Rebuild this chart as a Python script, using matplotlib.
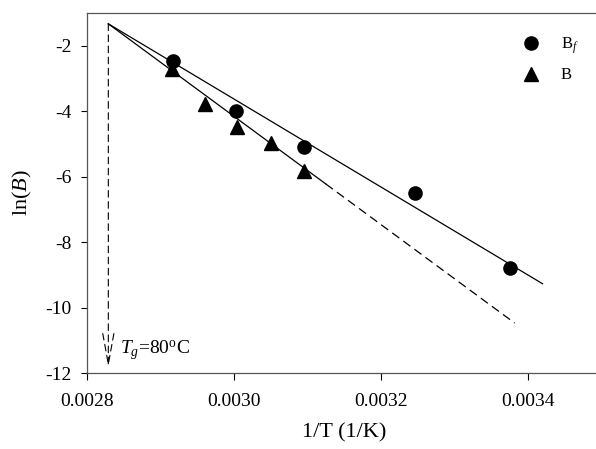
import numpy as np
import matplotlib
matplotlib.use("Agg")
import matplotlib.pyplot as plt

plt.rcParams['font.family'] = ['Liberation Serif', 'DejaVu Serif']
plt.rcParams['mathtext.fontset'] = 'custom'
plt.rcParams['mathtext.rm'] = 'Liberation Serif'
plt.rcParams['mathtext.it'] = 'Liberation Serif:italic'
plt.rcParams['axes.unicode_minus'] = False

# measured points
x_bf = [0.002917, 0.003003, 0.003095, 0.003246, 0.003376]
y_bf = [-2.48, -3.98, -5.1, -6.5, -8.78]
x_b = [0.002915, 0.00296, 0.003004, 0.00305, 0.003095]
y_b = [-2.7, -3.78, -4.47, -4.97, -5.82]

# fitted lines (from common Tg point)
x_tg = 0.002829
y_tg = -1.33
x_bf_end = 0.00342
y_bf_end = -9.27
x_b_solid = 0.003125
x_b_end = 0.003382
y_b_end = -10.47
y_arrow = -11.82

fig = plt.figure(figsize=(5.96, 4.49), dpi=100)
ax = fig.add_axes([0.146, 0.169, 0.863, 0.802])

# Bf fit line
ax.plot([x_tg, x_bf_end], [y_tg, y_bf_end], color='black', lw=0.9)
# B fit line: solid part then dashed extrapolation
slope_b = (y_b_end - y_tg) / (x_b_end - x_tg)
y_b_solid = y_tg + slope_b * (x_b_solid - x_tg)
ax.plot([x_tg, x_b_solid], [y_tg, y_b_solid], color='black', lw=0.9)
ax.plot([x_b_solid, x_b_end], [y_b_solid, y_b_end], color='black', lw=0.9,
        dashes=(7, 4))

# vertical dashed arrow to Tg
ax.annotate('', xy=(x_tg, y_arrow), xytext=(x_tg, y_tg),
            arrowprops=dict(arrowstyle='->,head_length=2.2,head_width=0.4',
                            linestyle=(0, (6, 4)), lw=0.8, color='black',
                            shrinkA=0, shrinkB=0))
ax.text(0.002845, -11.3, r'$T_g$=80$^{\rm o}$C', fontsize=14, va='center')

ax.plot(x_bf, y_bf, 'o', color='black', ms=9.5, label=r'B$_f$', zorder=3)
ax.plot(x_b, y_b, '^', color='black', ms=9.5, label='B', zorder=3)

ax.set_xlim(0.0028, 0.0035)
ax.set_ylim(-12, -1)
ax.set_xticks([0.0028, 0.0030, 0.0032, 0.0034])
ax.set_xticklabels(['0.0028', '0.0030', '0.0032', '0.0034'])
ax.set_yticks([-12, -10, -8, -6, -4, -2])
ax.tick_params(labelsize=14, direction='out', width=0.8,
               top=False, right=False)
ax.tick_params(axis='x', length=5, pad=9)
ax.tick_params(axis='y', length=4, pad=7)
for s in ax.spines.values():
    s.set_color('#555555')
    s.set_linewidth(0.9)
ax.spines['right'].set_visible(False)

ax.set_xlabel('1/T (1/K)', fontsize=16, labelpad=10)
ax.set_ylabel(r'ln($B$)', fontsize=16, labelpad=8)

leg = ax.legend(loc='upper right', bbox_to_anchor=(0.985, 0.98), frameon=False,
                fontsize=12, handletextpad=1.2, labelspacing=0.7,
                handlelength=1.2, markerscale=1.0)

fig.savefig('out.png', dpi=100)
